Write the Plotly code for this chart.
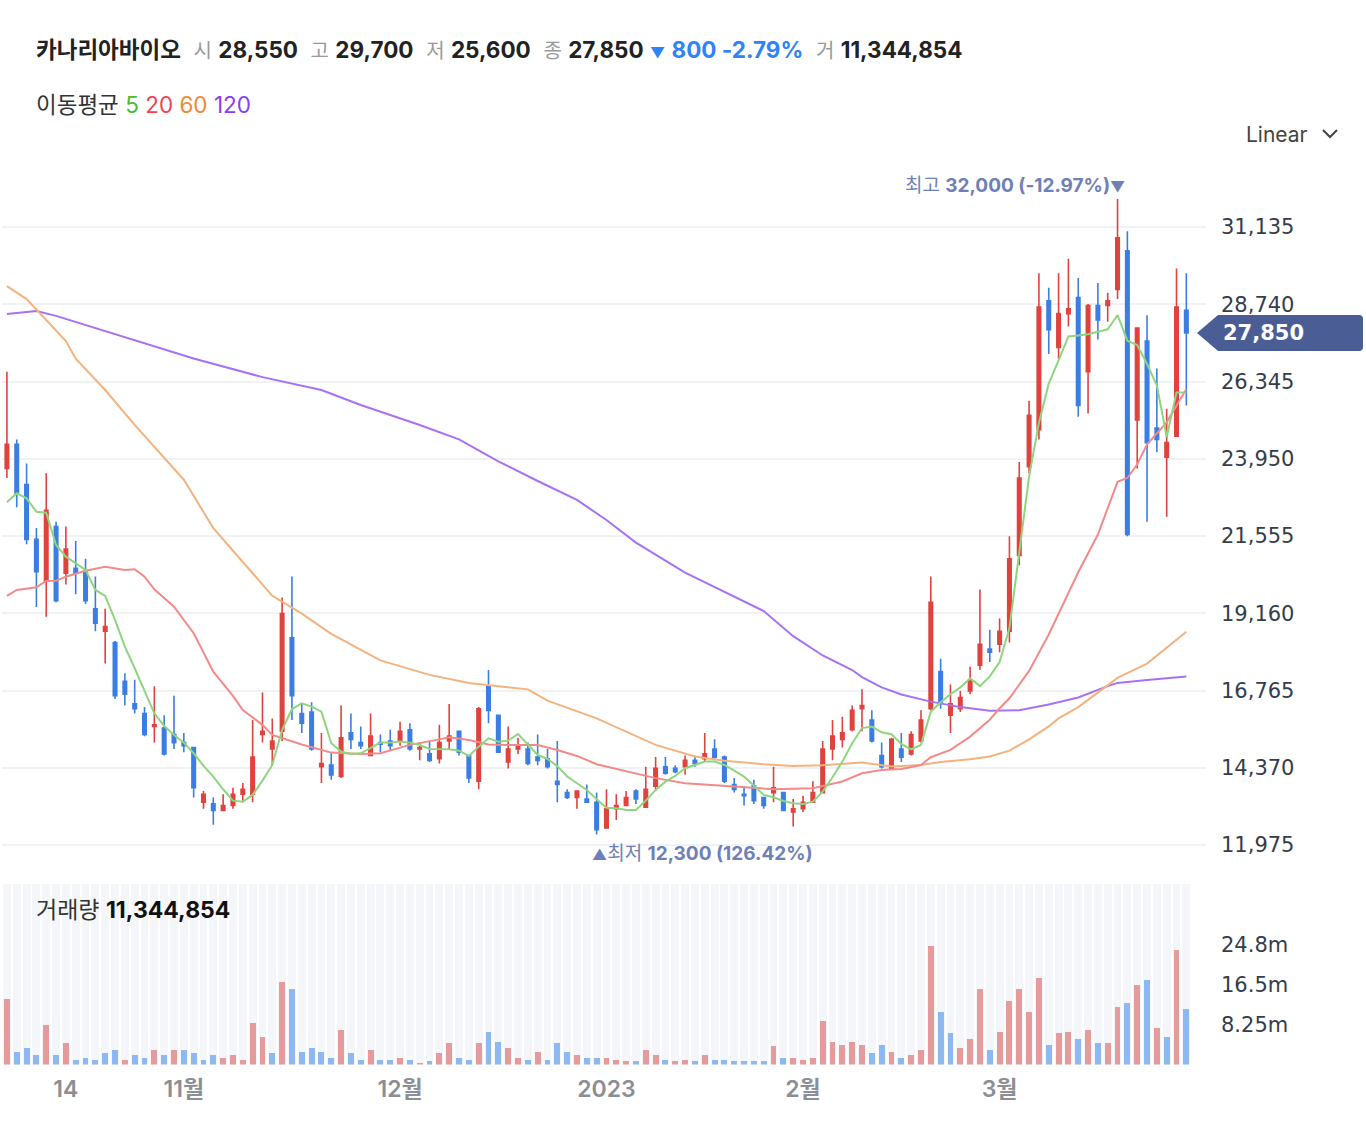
import pandas as pd
import plotly.graph_objects as go

W, H = 1366, 1148
PL, PW = 2, 1204          # plot-area left edge and width in px

# ---------------- data ----------------
holidays = {"2022-10-10", "2022-12-30", "2023-01-23", "2023-01-24", "2023-03-01"}
dates = [d.strftime("%Y-%m-%d") for d in pd.bdate_range("2022-10-05", "2023-03-29")
         if d.strftime("%Y-%m-%d") not in holidays]

open_ = [23650, 24400, 23150, 21450, 20150, 21850, 20400, 20550, 20450, 19300,
         18600, 18250, 17050, 16350, 16050, 15650, 15600, 15400, 15150, 15000,
         13300, 13250, 13050, 13200, 13550, 13550, 15400, 14950, 15500, 18400,
         16050, 16100, 14400, 14450, 14100, 15450, 15150, 14750, 15150, 15200,
         15200, 15550, 14950, 14800, 14650, 15200, 15500, 14750, 13950, 16900,
         16000, 14550, 14950, 14950, 14700, 14650, 13950, 13600, 13450, 13400,
         13300, 12500, 13100, 13200, 13650, 13150, 13800, 14400, 14350, 14400,
         14600, 14650, 14950, 14700, 13850, 13550, 13800, 13450, 13600, 13600,
         13000, 13100, 13300, 13600, 14950, 15250, 15550, 16200, 15850, 14750,
         14350, 14950, 14800, 15200, 16200, 17350, 16000, 16200, 16750, 17550,
         18050, 18200, 18600, 20950, 23700, 24850, 28850, 27400, 28450, 28950,
         26650, 28700, 28700, 29200, 30400, 25150, 27600, 24900, 24000, 24650,
         28550]
high = [26650, 24550, 23800, 21800, 23500, 22000, 21850, 21400, 20850, 20300,
        19300, 18300, 17300, 17100, 16250, 16900, 16000, 16600, 15450, 15000,
        13650, 13450, 13550, 13750, 13900, 15850, 16700, 15900, 19650, 20300,
        16350, 16400, 15450, 14850, 16300, 16050, 15650, 16050, 15400, 15550,
        15800, 15750, 15150, 15200, 15700, 16350, 15500, 14750, 16250, 17400,
        16000, 15650, 15300, 15150, 15400, 14950, 15200, 13700, 13650, 13850,
        13600, 13700, 13550, 13650, 13700, 14400, 14700, 14700, 14450, 14750,
        14750, 15450, 15250, 14750, 14050, 13800, 14000, 13450, 14400, 13600,
        13400, 13500, 13950, 15200, 15850, 15950, 16300, 16800, 16150, 15150,
        15300, 15450, 15500, 16150, 20300, 17750, 16950, 16750, 17500, 19900,
        18650, 19000, 21550, 23850, 25750, 29700, 29250, 29700, 30150, 29550,
        28750, 29400, 29100, 32000, 31000, 28000, 28400, 26750, 25500, 29850,
        29700]
low = [23350, 22450, 21300, 19350, 19050, 19500, 20050, 19750, 19450, 18600,
       17600, 16500, 16300, 16050, 15350, 15150, 14750, 14950, 14850, 13450,
       13100, 12600, 13050, 13100, 13300, 13300, 15150, 14450, 15200, 15850,
       15450, 14900, 13900, 14000, 14050, 14950, 14950, 14750, 14850, 14900,
       15050, 14900, 14600, 14550, 14500, 14950, 14750, 13900, 13700, 15750,
       14850, 14350, 14800, 14450, 14450, 14350, 13300, 13400, 13100, 13300,
       12300, 12500, 12750, 13200, 13250, 13150, 13650, 14150, 14200, 14150,
       14400, 14550, 14650, 13900, 13600, 13200, 13250, 13100, 13300, 13050,
       12550, 13000, 13300, 13600, 14600, 15000, 15500, 15500, 15150, 14350,
       14300, 14550, 14750, 15150, 16150, 16200, 15450, 16100, 16650, 17400,
       17650, 17950, 18250, 20650, 23500, 24550, 27200, 27050, 28050, 25250,
       25350, 27650, 28200, 28900, 21550, 23650, 22000, 24150, 22150, 24650,
       25600]
close = [24400, 22850, 21450, 20450, 22350, 19550, 21150, 20400, 19550, 18850,
         18750, 16600, 16650, 16200, 15400, 15700, 14800, 15150, 15050, 13750,
         13550, 13050, 13200, 13550, 13700, 14700, 15500, 15200, 19150, 16600,
         15750, 14950, 14500, 14150, 15300, 15250, 15050, 15350, 15100, 15050,
         15500, 14950, 15000, 14600, 15150, 15350, 14850, 14050, 16200, 16150,
         14850, 14950, 15050, 14500, 14600, 14400, 13850, 13450, 13650, 13300,
         12450, 13100, 13200, 13450, 13400, 13700, 14350, 14200, 14250, 14600,
         14500, 14800, 14700, 13950, 13700, 13500, 13350, 13200, 13750, 13050,
         13100, 13300, 13600, 14950, 15350, 15450, 16150, 16300, 15200, 14400,
         15250, 14700, 15400, 15850, 19500, 16400, 16350, 16550, 17050, 18200,
         17950, 18600, 20850, 23350, 25300, 28650, 27950, 28450, 28600, 25600,
         28700, 28250, 28850, 30800, 21600, 28000, 24450, 24550, 24450, 28650,
         27850]
# volume in millions of shares
volume = [13.4, 2.68, 3.5, 1.86, 8.04, 1.86, 4.33, 1.03, 1.44, 1.03,
          2.27, 3.09, 1.03, 1.86, 1.44, 3.09, 1.86, 3.09, 3.09, 2.27,
          1.03, 1.86, 1.44, 1.86, 1.03, 8.46, 5.57, 2.27, 17.1, 15.5,
          2.68, 3.5, 2.68, 1.44, 7.2, 2.27, 1.03, 3.09, 1.03, 1.03,
          1.44, 1.03, 0.2, 0.62, 2.27, 4.33, 1.44, 1.03, 4.33, 6.8,
          4.74, 3.5, 1.44, 1.03, 2.68, 1.03, 4.33, 2.68, 1.86, 1.44,
          1.44, 1.44, 1.03, 0.62, 0.62, 3.09, 1.86, 1.03, 0.62, 1.03,
          0.62, 1.86, 1.03, 1.03, 0.62, 0.62, 0.62, 0.62, 3.9, 1.44,
          1.44, 1.03, 1.44, 8.87, 4.74, 3.92, 4.74, 3.92, 2.27, 3.92,
          2.68, 1.44, 1.86, 3.09, 24.5, 10.9, 6.4, 3.5, 5.16, 15.5,
          3.09, 6.8, 13.0, 15.5, 10.9, 17.9, 3.92, 6.4, 6.8, 5.16,
          7.2, 4.33, 4.33, 11.8, 12.6, 16.3, 17.5, 7.6, 5.57, 23.7,
          11.344854]
# 1 = close above previous close (red volume), 0 = below (blue)
vol_up = [1, 0, 0, 0, 1, 0, 1, 0, 0, 0,
          0, 0, 1, 0, 0, 1, 0, 1, 0, 0,
          0, 0, 1, 1, 1, 1, 1, 0, 1, 0,
          0, 0, 0, 0, 1, 0, 0, 1, 0, 0,
          1, 0, 1, 0, 1, 1, 0, 0, 1, 0,
          0, 1, 1, 0, 1, 0, 0, 0, 1, 0,
          0, 1, 1, 1, 0, 1, 1, 0, 1, 1,
          0, 1, 0, 0, 0, 0, 0, 0, 1, 0,
          1, 1, 1, 1, 1, 1, 1, 1, 0, 0,
          1, 0, 1, 1, 1, 0, 0, 1, 1, 1,
          0, 1, 1, 1, 1, 1, 0, 1, 1, 0,
          1, 0, 1, 1, 0, 1, 0, 1, 0, 1,
          0]

ma5 = [22600, 22880, 22724, 22309, 22278, 21277, 20914, 20709, 20502, 19882,
       19696, 18952, 18125, 17455, 16782, 16058, 15666, 15387, 15149, 14819,
       14426, 14095, 13703, 13350, 13319, 13527, 13970, 14457, 15542, 16190,
       16369, 16265, 16109, 15129, 14870, 14798, 14819, 14974, 15149, 15149,
       15180, 15149, 15077, 14953, 14943, 14943, 14900, 14736, 15025, 15284,
       15180, 15211, 15418, 15077, 14767, 14643, 14420, 14100, 13890, 13682,
       13394, 13133, 13114, 13062, 13062, 13350, 13682, 13940, 14116, 14355,
       14457, 14560, 14560, 14457, 14281, 14095, 13815, 13527, 13457, 13341,
       13269, 13248, 13319, 13629, 14075, 14560, 15129, 15600, 15646, 15470,
       15410, 15108, 14943, 15077, 16109, 16400, 16650, 16860, 17146, 16900,
       17204, 17650, 18699, 21078, 23404, 25062, 26280, 26999, 27742, 27774,
       27809, 27886, 27964, 28407, 27610, 27477, 26888, 26225, 24625, 26004,
       26004]
ma20_idx = [0, 1, 3, 4, 5, 6, 8, 10, 12, 13, 14, 15, 17, 19, 21, 23, 24, 26, 27, 30,
            33, 36, 38, 41, 44, 45, 47, 49, 51, 54, 56, 58, 60, 63, 66, 69, 72, 75, 78, 82,
            83, 85, 87, 89, 91, 93, 94, 96, 98, 100, 101, 102, 104, 106, 109, 111, 113, 114,
            115, 116, 118, 120]
ma20_val = [19700, 19882, 19965, 20161, 20170, 20294, 20480, 20604, 20502, 20523,
            20294, 19903, 19364, 18539, 17349, 16600, 16162, 15700, 15386, 15090,
            14839, 14798, 14819, 15080, 15250, 15315, 15232, 15090, 15077, 15077,
            14920, 14736, 14480, 14255, 14048, 13893, 13830, 13768, 13706, 13737,
            13800, 13945, 14200, 14302, 14333, 14457, 14696, 14922, 15335, 15860,
            16214, 16524, 17371, 18500, 20430, 21600, 23236, 23354, 23780, 24400,
            25080, 26113]
ma60_idx = [0, 2, 4, 6, 7, 10, 13, 16, 18, 21, 24, 27, 30, 33, 38, 43, 47, 53, 55, 58,
            60, 63, 66, 70, 73, 77, 80, 83, 87, 90, 93, 95, 98, 100, 102, 104, 106, 107,
            109, 111, 113, 116, 118, 120]
ma60_val = [29300, 28900, 28250, 27600, 27050, 26080, 25000, 23990, 23300, 21800,
            20750, 19700, 19150, 18520, 17700, 17250, 17000, 16800, 16450, 16120,
            15900, 15490, 15080, 14720, 14590, 14480, 14426, 14450, 14529, 14410,
            14457, 14550, 14634, 14720, 14901, 15250, 15650, 15900, 16250, 16700,
            17154, 17600, 18087, 18586]
ma120_idx = [0, 3, 5, 9, 14, 19, 26, 32, 36, 42, 46, 50, 54, 58, 61, 64, 69, 73, 77, 80,
             83, 86, 87, 89, 91, 94, 97, 100, 103, 106, 109, 112, 113, 116, 120]
ma120_val = [28440, 28531, 28380, 28000, 27520, 27060, 26480, 26082, 25617, 24997,
             24550, 23870, 23260, 22672, 22052, 21350, 20420, 19820, 19230, 18450,
             17850, 17400, 17180, 16860, 16640, 16420, 16250, 16140, 16150, 16330,
             16550, 16900, 17000, 17093, 17200]

price_ticks = [11975, 14370, 16765, 19160, 21555, 23950, 26345, 28740, 31135]
vol_ticks = [8.25, 16.5, 24.75]
vol_tick_text = ["8.25m", "16.5m", "24.8m"]
x_tick_dates = ["2022-10-14", "2022-11-01", "2022-12-01", "2023-01-02", "2023-02-01", "2023-03-02"]
x_tick_text = ["14", "11월", "12월", "2023", "2월", "3월"]

# ---------------- styling ----------------
FONT = "Inter, 'Noto Sans CJK KR', sans-serif"
TICKFONT = "'DejaVu Sans', 'Noto Sans CJK KR', sans-serif"
RED, BLUE = "#e0423d", "#3a7ee4"
VRED, VBLUE = "#e59b9b", "#8db8f1"
C5, C20, C60, C120 = "#8fd57f", "#f28b88", "#f3b37f", "#a771f5"
PRICE_RANGE = [11200, 33212]
VOL_TOP = 37.2


def px_x(p):
    return (p - PL) / PW


def px_y(p):
    return 1 - p / H


fig = go.Figure()

fig.add_trace(go.Candlestick(
    x=dates, open=open_, high=high, low=low, close=close,
    increasing=dict(line=dict(color=RED, width=1.6), fillcolor=RED),
    decreasing=dict(line=dict(color=BLUE, width=1.6), fillcolor=BLUE),
    whiskerwidth=0, xaxis="x", yaxis="y", hoverinfo="skip", showlegend=False))

for idx, vals, col in [(ma120_idx, ma120_val, C120), (ma60_idx, ma60_val, C60),
                       (ma20_idx, ma20_val, C20), (list(range(len(ma5))), ma5, C5)]:
    fig.add_trace(go.Scatter(x=[dates[i] for i in idx], y=vals, mode="lines",
                             line=dict(color=col, width=2), xaxis="x", yaxis="y",
                             hoverinfo="skip", showlegend=False))

# volume panel: background stripes then bars
fig.add_trace(go.Bar(x=dates, y=[VOL_TOP] * len(dates), width=0.8, marker_color="#f5f6fa",
                     marker_line_width=0, xaxis="x2", yaxis="y2", hoverinfo="skip",
                     showlegend=False))
fig.add_trace(go.Bar(x=dates, y=volume, width=0.6,
                     marker_color=[VRED if u else VBLUE for u in vol_up],
                     marker_line_width=0, xaxis="x2", yaxis="y2", hoverinfo="skip",
                     showlegend=False))

xrange = [-0.5, len(dates) + 1]
fig.update_layout(
    width=W, height=H, margin=dict(l=PL, r=W - PL - PW, t=0, b=0, autoexpand=False),
    paper_bgcolor="white", plot_bgcolor="white",
    font=dict(family=FONT, color="#333d4b"),
    barmode="overlay", bargap=0, boxgap=0.5, hovermode=False, showlegend=False,
    xaxis=dict(type="category", range=xrange, domain=[0, 1], anchor="y",
               rangeslider=dict(visible=False),
               showticklabels=False, showgrid=False, zeroline=False, showline=False,
               ticks=""),
    yaxis=dict(domain=[px_y(870), px_y(160)], range=PRICE_RANGE, side="right",
               tickvals=price_ticks, tickformat=",d", showgrid=True,
               gridcolor="#f1f2f5", gridwidth=1.5, zeroline=False, showline=False,
               ticks="", ticklabelstandoff=14,
               tickfont=dict(family=TICKFONT, size=21, color="#333d4b")),
    xaxis2=dict(type="category", range=xrange, domain=[0, 1], anchor="y2", matches="x",
                tickvals=x_tick_dates, ticktext=x_tick_text, showgrid=False,
                zeroline=False, showline=False, ticks="", ticklabelstandoff=8,
                tickfont=dict(family=FONT, size=23, color="#8b8f95", weight=600)),
    yaxis2=dict(domain=[px_y(1064.5), px_y(884)], range=[0, VOL_TOP], side="right",
                tickvals=vol_ticks, ticktext=vol_tick_text, showgrid=False,
                zeroline=False, showline=False, ticks="", ticklabelstandoff=14,
                tickfont=dict(family=TICKFONT, size=21, color="#333d4b")),
)

# ---------------- header texts ----------------
G = "color:#9a9a9a;font-weight:400;font-size:20px"
chg = close[-1] - close[-2]
pct = chg / close[-2] * 100
arrow = "▼" if chg < 0 else "▲"
vol_last = round(volume[-1] * 1e6)
header = (f"<b>카나리아바이오</b>  "
          f"<span style='{G}'>시</span> <b>{open_[-1]:,}</b>  "
          f"<span style='{G}'>고</span> <b>{high[-1]:,}</b>  "
          f"<span style='{G}'>저</span> <b>{low[-1]:,}</b>  "
          f"<span style='{G}'>종</span> <b>{close[-1]:,}</b> "
          f"<span style='color:#3182f6'><span style='font-size:15px'>{arrow}</span> "
          f"<b>{abs(chg):,} {pct:.2f}%</b></span>  "
          f"<span style='{G}'>거</span> <b>{vol_last:,}</b>")
ann = [
    dict(x=px_x(34), y=px_y(50), text=header, font=dict(size=22.5, color="#222")),
    dict(x=px_x(34), y=px_y(104),
         text=("이동평균 <span style='color:#4cbb2e'>5</span> "
               "<span style='color:#f04452'>20</span> "
               "<span style='color:#ee8a32'>60</span> "
               "<span style='color:#8b3cf7'>120</span>"),
         font=dict(size=22.5, color="#333")),
    dict(x=px_x(1244), y=px_y(134), text="Linear", font=dict(size=21, color="#444")),
    dict(x=px_x(34), y=px_y(910),
         text=f"거래량 <b style='color:#111'>{vol_last:,}</b>",
         font=dict(size=23, color="#333")),
]
for a in ann:
    a.update(xref="paper", yref="paper", xanchor="left", yanchor="middle", showarrow=False)

# max / min markers
imax = max(range(len(high)), key=lambda i: high[i])
imin = min(range(len(low)), key=lambda i: low[i])
pmax = (close[-1] - high[imax]) / high[imax] * 100
pmin = (close[-1] - low[imin]) / low[imin] * 100
MC = "#6e80b6"
ann.append(dict(x=dates[imax], y=high[imax], xref="x", yref="y", xanchor="right",
                yanchor="middle", xshift=9, yshift=14, showarrow=False,
                text=f"<span style='font-weight:400'>최고</span> <b>{high[imax]:,} ({pmax:.2f}%)</b>"
                     f"<span style='font-size:15px'>▼</span>",
                font=dict(size=19, color=MC)))
ann.append(dict(x=dates[imin], y=low[imin], xref="x", yref="y", xanchor="left",
                yanchor="middle", xshift=-7, yshift=-19, showarrow=False,
                text=f"<span style='font-size:15px'>▲</span><span style='font-weight:400'>최저</span> "
                     f"<b>{low[imin]:,} ({pmin:.2f}%)</b>",
                font=dict(size=19, color=MC)))
# current price tag text
ann.append(dict(x=px_x(1221), y=close[-1], xref="paper", yref="y", xanchor="left",
                yanchor="middle", showarrow=False, text=f"<b>{close[-1]:,}</b>",
                font=dict(family=TICKFONT, size=21, color="white")))
fig.update_layout(annotations=ann)

shapes = [
    dict(type="path", xref="paper", yref="y", xsizemode="pixel", ysizemode="pixel",
         xanchor=px_x(1197), yanchor=close[-1],
         path="M0,0 L21,18 L162,18 Q166,18 166,14 L166,-14 Q166,-18 162,-18 L21,-18 Z",
         fillcolor="#4a5d94", line=dict(width=0), layer="above"),
    dict(type="path", xref="paper", yref="paper",
         path=f"M{px_x(1323)},{px_y(130)} L{px_x(1330)},{px_y(137)} L{px_x(1337)},{px_y(130)}",
         line=dict(color="#444", width=2)),
]
fig.update_layout(shapes=shapes)

fig.write_html("out.html")
